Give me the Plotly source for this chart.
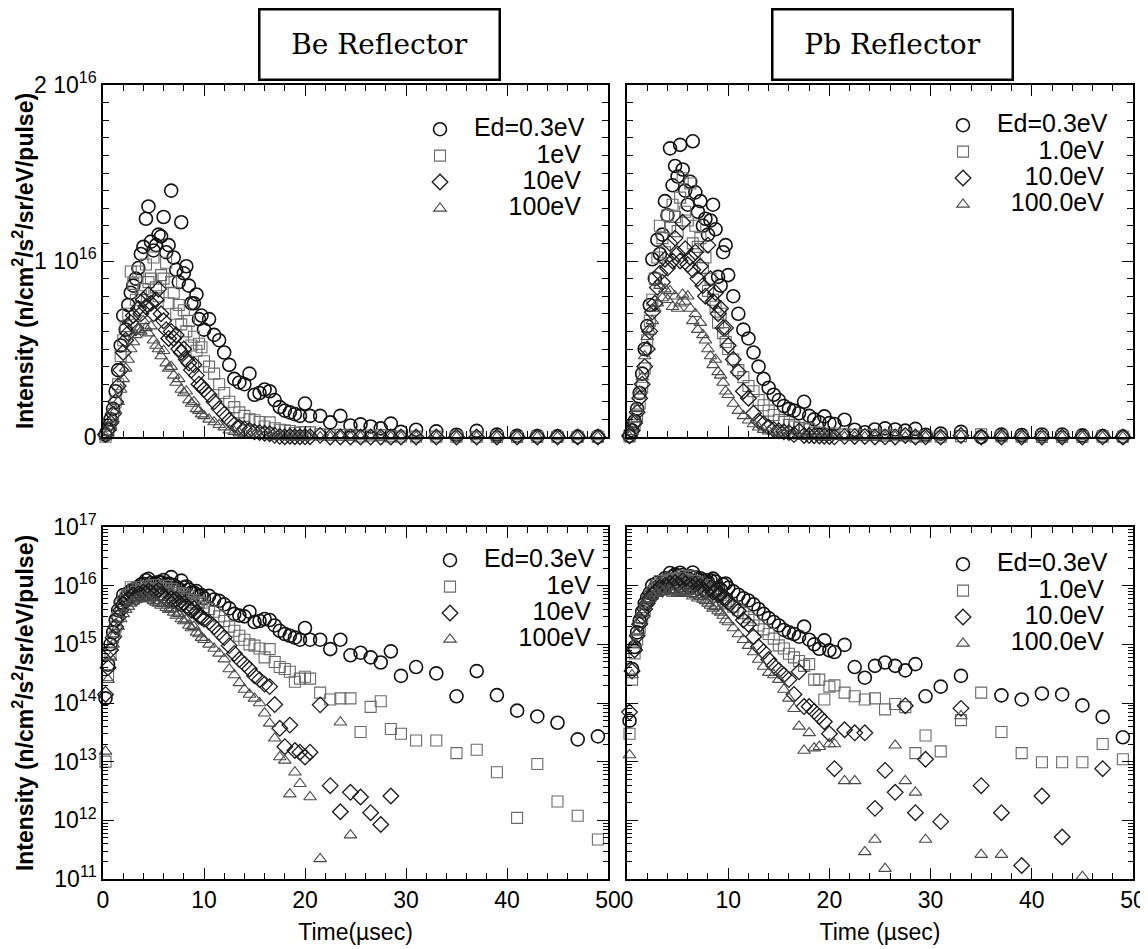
import plotly.graph_objects as go

# ---------------- data (intensity in units of 1e15 n/cm2/s2/sr/eV/pulse) ----------------
UNIT = 1e15

time_us = [0.25, 0.5, 0.75, 1.0, 1.25, 1.5, 1.75, 2.0, 2.25, 2.5,
           2.75, 3.0, 3.25, 3.5, 3.75, 4.0, 4.25, 4.5, 4.75, 5.0,
           5.25, 5.5, 5.75, 6.0, 6.25, 6.5, 6.75, 7.0, 7.25, 7.5,
           7.75, 8.0, 8.25, 8.5, 8.75, 9.0, 9.25, 9.5, 9.75, 10.0,
           10.5, 11.0, 11.5, 12.0, 12.5, 13.0, 13.5, 14.0, 14.5, 15.0,
           15.5, 16.0, 16.5, 17.0, 17.5, 18.0, 18.5, 19.0, 19.5, 20.0,
           20.5, 21.5, 22.5, 23.5, 24.5, 25.5, 26.5, 27.5, 28.5, 29.5,
           31, 33, 35, 37, 39, 41, 43, 45, 47, 49]

be_ed03 = [0.12, 0.45, 1.0, 1.6, 2.6, 3.8, 5.2, 6.9, 6.1, 7.5,
           8.2, 8.6, 9.0, 9.6, 10.4, 10.8, 12.4, 13.1, 11.1, 10.6,
           10.9, 11.5, 11.4, 12.5, 10.5, 10.9, 14.0, 10.2, 9.5, 8.8,
           12.2, 9.3, 9.7, 8.6, 7.6, 7.6, 8.1, 6.7, 6.9, 6.1,
           6.7, 5.8, 5.5, 4.8, 4.1, 3.3, 3.1, 3.0, 3.6, 2.4,
           2.5, 2.7, 2.6, 2.1, 1.7, 1.5, 1.4, 1.3, 1.2, 1.9,
           1.2, 1.2, 0.83, 1.2, 0.65, 0.72, 0.60, 0.49, 0.76, 0.29,
           0.41, 0.32, 0.13, 0.35, 0.136, 0.074, 0.059, 0.046, 0.024, 0.027]
be_ed1 = [0.01, 0.3, 0.7, 1.3, 2.0, 3.0, 4.6, 5.5, 6.3, 7.0,
          9.4, 8.7, 7.8, 9.4, 8.0, 8.4, 9.8, 8.8, 9.0, 10.2,
          8.5, 8.0, 9.2, 9.0, 9.9, 7.6, 8.8, 8.2, 7.0, 7.5,
          6.4, 7.2, 6.0, 6.6, 5.2, 5.7, 4.9, 5.3, 5.1, 4.3,
          4.0, 3.6, 3.0, 2.5, 2.0, 1.7, 1.4, 1.2, 1.0, 0.95,
          0.85, 0.6, 0.83, 0.5, 0.41, 0.38, 0.34, 0.23, 0.26, 0.28,
          0.26, 0.15, 0.115, 0.12, 0.12, 0.032, 0.086, 0.107, 0.036, 0.030,
          0.023, 0.023, 0.014, 0.016, 0.0066, 0.0011, 0.0091, 0.0021, 0.0012, 0.00047]
be_ed10 = [0.14, 0.4, 0.8, 1.3, 2.0, 2.9, 3.8, 4.8, 5.5, 5.9,
           6.5, 6.9, 6.2, 7.3, 7.0, 7.8, 7.4, 8.1, 7.6, 7.0,
           7.8, 8.4, 7.0, 6.6, 6.1, 5.6, 6.0, 5.6, 5.8, 5.0,
           4.8, 5.0, 4.4, 4.2, 3.8, 4.1, 3.5, 3.0, 2.9, 2.7,
           2.4, 2.0, 1.6, 1.3, 0.95, 0.70, 0.55, 0.46, 0.38, 0.29,
           0.25, 0.21, 0.19, 0.094, 0.037, 0.018, 0.042, 0.0155, 0.0145, 0.012,
           0.0145, 0.093, 0.0039, 0.0014, 0.0030, 0.0025, 0.00135, 0.00085, 0.0026, 0,
           0, 0, 0, 0, 0, 0, 0, 0, 0, 0]
be_ed100 = [0.015, 0.25, 0.6, 1.0, 1.5, 2.0, 2.7, 3.3, 3.9, 4.4,
            5.0, 5.4, 5.8, 6.1, 6.0, 6.6, 6.2, 5.9, 6.3, 5.5,
            5.2, 5.0, 4.6, 4.9, 4.2, 3.9, 4.0, 3.5, 3.1, 3.3,
            2.7, 2.5, 2.6, 2.1, 1.9, 2.0, 1.6, 1.5, 1.3, 1.2,
            1.0, 0.85, 0.7, 0.56, 0.38, 0.30, 0.22, 0.17, 0.14, 0.12,
            0.10, 0.067, 0.045, 0.025, 0.012, 0.0105, 0.0028, 0.0066, 0.0042, 0,
            0.0025, 0.00022, 0, 0.047, 0.00056, 0, 0, 0, 0, 0,
            0, 0, 0, 0, 0, 0, 0, 0, 0, 0]

pb_ed03 = [0.05, 0.38, 0.9, 1.6, 2.5, 3.6, 5.0, 6.3, 7.5, 10.1,
           9.0, 11.2, 10.4, 11.5, 13.4, 12.6, 16.4, 14.3, 15.4, 14.8,
           16.6, 15.2, 14.0, 13.2, 14.5, 16.8, 13.9, 12.8, 13.4, 12.0,
           12.4, 11.5, 12.3, 13.2, 11.8, 9.1, 8.6, 10.5, 10.9, 9.2,
           8.0, 7.0, 6.1, 5.6, 4.8, 4.0, 3.3, 2.8, 2.4, 2.1,
           1.76, 1.6, 1.5, 1.35, 2.0, 1.2, 1.0, 0.84, 1.17, 0.79,
           0.74, 0.98, 0.41, 0.27, 0.43, 0.49, 0.43, 0.36, 0.46, 0.13,
           0.19, 0.29, 0, 0.135, 0.115, 0.145, 0.14, 0.091, 0.058, 0.026]
pb_ed1 = [0.03, 0.25, 0.7, 1.2, 1.9, 2.8, 3.9, 5.5, 6.6, 7.8,
          9.0, 10.2, 12.0, 11.3, 10.5, 12.6, 11.9, 13.2, 12.5, 11.7,
          13.6, 14.7, 12.8, 12.3, 14.4, 11.0, 12.0, 10.8, 11.3, 9.6,
          10.2, 8.3, 9.0, 7.8, 7.4, 6.5, 7.0, 5.9, 5.4, 5.0,
          4.4, 3.8, 3.4, 2.9, 2.6, 2.1, 1.8, 1.5, 1.25, 0.96,
          0.85, 0.69, 0.60, 0.52, 0.43, 0.46, 0.25, 0.25, 0.115, 0.19,
          0.20, 0.15, 0.13, 0.115, 0.12, 0.078, 0.096, 0.085, 0.014, 0.028,
          0.015, 0.051, 0.15, 0.032, 0.014, 0.0098, 0.0098, 0.0098, 0.020, 0.011]
pb_ed10 = [0.07, 0.35, 0.8, 1.4, 2.2, 3.0, 4.0, 5.0, 6.0, 7.1,
           7.6, 8.5, 9.3, 8.8, 10.1, 9.6, 11.0, 10.0, 11.3, 10.4,
           10.0, 12.2, 10.7, 9.8, 10.2, 9.5, 10.5, 9.0, 9.7, 8.6,
           8.0, 10.9, 9.0, 7.7, 8.2, 7.0, 7.3, 6.2, 6.2, 5.2,
           4.4, 3.7, 2.6, 2.2, 1.35, 0.91, 0.75, 0.55, 0.43, 0.36,
           0.30, 0.25, 0.14, 0.34, 0.087, 0.087, 0.072, 0.059, 0.048, 0.030,
           0.0076, 0.035, 0.031, 0.031, 0.0016, 0.0071, 0.0030, 0.09, 0.00135, 0.011,
           0.00095, 0.081, 0.0039, 0.00135, 0.00017, 0.0026, 0.00052, 0, 0.0076, 0]
pb_ed100 = [0.013, 0.3, 1.0, 1.6, 2.6, 3.4, 4.6, 5.7, 6.0, 6.6,
            7.3, 7.6, 8.6, 7.9, 8.4, 7.8, 8.3, 7.4, 8.0, 7.3,
            7.6, 8.1, 7.7, 8.0, 7.3, 6.6, 7.0, 6.1, 6.5, 5.8,
            5.5, 5.0, 4.6, 4.1, 4.4, 3.7, 3.5, 3.1, 2.6, 2.4,
            1.9, 1.5, 1.2, 0.95, 0.74, 0.55, 0.42, 0.33, 0.30, 0.25,
            0.17, 0.12, 0.08, 0.04, 0.0155, 0.031, 0.017, 0.018, 0, 0.02,
            0.020, 0.0047, 0.0047, 0.00029, 0.00047, 0.00015, 0.019, 0.0047, 0.0030, 0.00047,
            0, 0.06, 0.00026, 0.00026, 0, 0, 0, 0.00011, 0, 0]

be_labels = ["Ed=0.3eV", "1eV", "10eV", "100eV"]
pb_labels = ["Ed=0.3eV", "1.0eV", "10.0eV", "100.0eV"]
panel_titles = ["Be Reflector", "Pb Reflector"]
x_titles = ["Time(\u00b5sec)", "Time (\u00b5sec)"]
y_title = "Intensity (n/cm<sup>2</sup>/s<sup>2</sup>/sr/eV/pulse)"
x_ticks = [0, 10, 20, 30, 40, 50]
lin_tickvals = [0, 1e16, 2e16]
lin_ticktext = ["0", "1 10<sup>16</sup>", "2 10<sup>16</sup>"]
log_exponents = [11, 12, 13, 14, 15, 16, 17]

# ---------------- styling ----------------
# the page body has an 8 px margin, so the figure is 8 px smaller than the window
OFF = 8
W, H = 1148 - OFF, 949 - OFF
FONT = "Liberation Sans, Arial, Helvetica, sans-serif"
styles = [
    dict(symbol="circle-open", size=13, color="#111111", width=1.6),
    dict(symbol="square-open", size=11, color="#6a6a6a", width=1.1),
    dict(symbol="diamond-open", size=12, color="#1a1a1a", width=1.3),
    dict(symbol="triangle-up-open", size=11, color="#4a4a4a", width=1.1),
]
# right-align legend labels with non-breaking spaces
be_pad = [0, 9, 7, 5]
pb_pad = [0, 6, 4, 2]
LEAD = 2
LEGEND_TEXT_PX = 25


def fx(px):
    return (px - OFF) / W


def fy(py):
    return 1 - (py - OFF) / H


X_BE = [fx(103), fx(608)]
X_PB = [fx(627), fx(1133)]
Y_TOP = [fy(437), fy(85)]
Y_BOT = [fy(879), fy(527)]

fig = go.Figure()

series = {
    "Be": [be_ed03, be_ed1, be_ed10, be_ed100],
    "Pb": [pb_ed03, pb_ed1, pb_ed10, pb_ed100],
}
panels = [
    ("Be", "x", "y", "legend", be_labels, be_pad),
    ("Pb", "x2", "y2", "legend2", pb_labels, pb_pad),
    ("Be", "x3", "y3", "legend3", be_labels, be_pad),
    ("Pb", "x4", "y4", "legend4", pb_labels, pb_pad),
]

for refl, xa, ya, lg, labels, pads in panels:
    for vals, st, lab, pad in zip(series[refl], styles, labels, pads):
        fig.add_trace(go.Scatter(
            x=time_us,
            y=[v * UNIT for v in vals],
            mode="markers",
            name='<span style="font-size:%dpx">%s%s</span>'
                 % (LEGEND_TEXT_PX, "\u00a0" * (LEAD + pad), lab),
            xaxis=xa, yaxis=ya, legend=lg,
            cliponaxis=False,
            marker=dict(symbol=st["symbol"], size=st["size"],
                        color=st["color"],
                        line=dict(color=st["color"], width=st["width"])),
        ))

tickfont = dict(family=FONT, size=23, color="black")
common_x = dict(range=[0, 50], ticks="inside", ticklen=11, tickwidth=1.3,
                tickcolor="black", showline=True, linecolor="black", linewidth=1.5,
                mirror="allticks", showgrid=False, zeroline=False, automargin=False,
                tickvals=x_ticks, tickfont=tickfont,
                minor=dict(ticks="inside", ticklen=6, tickcolor="black",
                           dtick=2, tick0=0, showgrid=False))

lin_minor = [k * 1e15 for k in range(1, 20)]
common_ylin = dict(range=[0, 2e16], ticks="inside", ticklen=11, tickwidth=1.3,
                   tickcolor="black", showline=True, linecolor="black", linewidth=1.5,
                   mirror="allticks", showgrid=False, zeroline=False, automargin=False,
                   tickmode="array", tickvals=lin_tickvals, ticktext=lin_ticktext,
                   tickfont=tickfont,
                   minor=dict(ticks="inside", ticklen=6, tickcolor="black",
                              tickvals=lin_minor, showgrid=False))

log_minor = [m * 10 ** e for e in range(11, 17) for m in range(2, 10)]
common_ylog = dict(type="log", range=[11, 17], ticks="inside", ticklen=11, tickwidth=1.3,
                   tickcolor="black", showline=True, linecolor="black", linewidth=1.5,
                   mirror="allticks", showgrid=False, zeroline=False, automargin=False,
                   tickmode="array", tickvals=[10 ** e for e in log_exponents],
                   ticktext=["10<sup>%d</sup>" % e for e in log_exponents],
                   tickfont=tickfont,
                   minor=dict(ticks="inside", ticklen=5, tickcolor="black",
                              tickvals=log_minor, showgrid=False))

ytitle = dict(text=y_title, font=dict(family=FONT, size=23, color="black", weight="bold"))
xtitle_font = dict(family=FONT, size=23, color="black")

fig.update_layout(
    width=W, height=H,
    margin=dict(l=0, r=0, t=0, b=0, autoexpand=False),
    paper_bgcolor="white", plot_bgcolor="white",
    font=dict(family=FONT, color="black"),
    xaxis=dict(common_x, domain=X_BE, anchor="y", showticklabels=False),
    yaxis=dict(common_ylin, domain=Y_TOP, anchor="x",
               title=dict(ytitle, standoff=8)),
    xaxis2=dict(common_x, domain=X_PB, anchor="y2", showticklabels=False),
    yaxis2=dict(common_ylin, domain=Y_TOP, anchor="x2", showticklabels=False),
    xaxis3=dict(common_x, domain=X_BE, anchor="y3",
                title=dict(text=x_titles[0], font=xtitle_font, standoff=12)),
    yaxis3=dict(common_ylog, domain=Y_BOT, anchor="x3",
                title=dict(ytitle, standoff=20)),
    xaxis4=dict(common_x, domain=X_PB, anchor="y4",
                title=dict(text=x_titles[1], font=xtitle_font, standoff=12)),
    yaxis4=dict(common_ylog, domain=Y_BOT, anchor="x4", showticklabels=False),
)

# legend row pitch follows legend.font.size; the visible text size is set in the span
legend_font = dict(family=FONT, size=18, color="black")
legend_pos = {
    "legend": (420, 111),
    "legend2": (943, 107),
    "legend3": (430, 542),
    "legend4": (943, 546),
}
for name, (lx, ly) in legend_pos.items():
    fig.update_layout({name: dict(x=fx(lx), y=fy(ly), xanchor="left", yanchor="top",
                                  bgcolor="rgba(0,0,0,0)", borderwidth=0,
                                  font=legend_font, itemsizing="trace")})

# framed panel titles
for title, cx in zip(panel_titles, [379, 892]):
    fig.add_annotation(
        text=title, xref="paper", yref="paper", x=fx(cx), y=fy(44),
        xanchor="center", yanchor="middle", showarrow=False,
        width=234, height=64, borderpad=2, borderwidth=2.5, bordercolor="black",
        bgcolor="white", font=dict(family="DejaVu Serif, serif", size=28, color="black"),
    )

fig.write_html("out.html")
